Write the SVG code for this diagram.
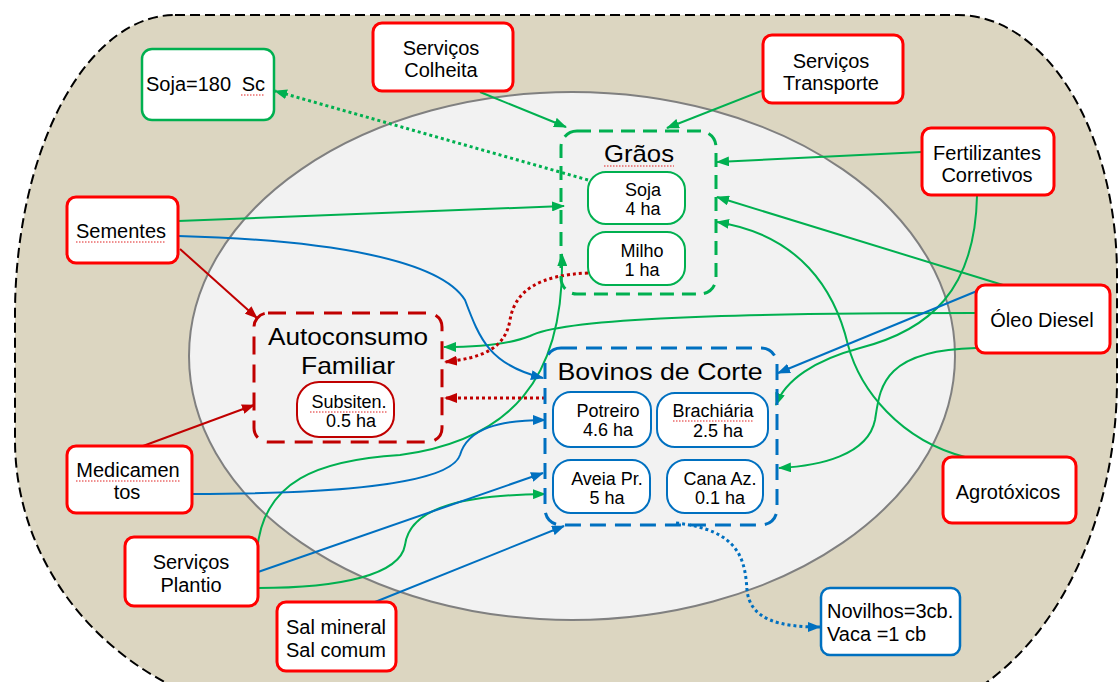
<svg xmlns="http://www.w3.org/2000/svg" width="1118" height="682" viewBox="0 0 1118 682">
<style>
text{font-family:"Liberation Sans",Arial,sans-serif;fill:#000}
.t20{font-size:20px;text-anchor:middle}
.t18{font-size:18px;text-anchor:middle}
.ttl{font-size:24px;text-anchor:middle}
.rb{fill:#fff;stroke:#ff0000;stroke-width:3}
.gb{fill:#fff;stroke:#00b050;stroke-width:2.5}
.bb{fill:#fff;stroke:#0070c0;stroke-width:2.5}
.dr{fill:#fff;stroke:#c00000;stroke-width:2}
.ig{fill:#fff;stroke:#00b050;stroke-width:2}
.ib{fill:#fff;stroke:#0070c0;stroke-width:2}
.grp{fill:none;stroke-width:3}
.c{fill:none;stroke-width:2}
.g{stroke:#00b050}
.b{stroke:#0070c0}
.r{stroke:#c00000}
.dot{stroke-width:3;stroke-dasharray:3 3}
.sq{fill:none;stroke:#e02020;stroke-width:1;stroke-dasharray:1.5 1.5}
</style>
<defs>
<marker id="ag" markerUnits="userSpaceOnUse" markerWidth="13" markerHeight="10" refX="12" refY="5" orient="auto"><path d="M0,0 L13,5 L0,10 z" fill="#00b050"/></marker>
<marker id="ab" markerUnits="userSpaceOnUse" markerWidth="13" markerHeight="10" refX="12" refY="5" orient="auto"><path d="M0,0 L13,5 L0,10 z" fill="#0070c0"/></marker>
<marker id="ar" markerUnits="userSpaceOnUse" markerWidth="13" markerHeight="10" refX="12" refY="5" orient="auto"><path d="M0,0 L13,5 L0,10 z" fill="#c00000"/></marker>
</defs>
<g id="background">
<path d="M175,15 L958,15 A159,260 0 0 1 1117,275 L1117,380 A240,340 0 0 1 877,720 L316,720 A301,280 0 0 1 15,440 L15,315 A160,300 0 0 1 175,15 Z" fill="#dcd6c1" stroke="#000" stroke-width="2" stroke-dasharray="10 5"/>
<ellipse cx="572" cy="356" rx="383" ry="264" fill="#f2f2f2" stroke="#808080" stroke-width="2"/>
</g>
<g id="connectors">
<path class="c g" d="M480,92 L566,127" marker-end="url(#ag)"/>
<path class="c g" d="M764,90 L667,128" marker-end="url(#ag)"/>
<path class="c g" d="M922,152 L717,162" marker-end="url(#ag)"/>
<path class="c g" d="M178,221 L564,206" marker-end="url(#ag)"/>
<path class="c g" d="M1003,285 L717,197" marker-end="url(#ag)"/>
<path class="c g" d="M965,457 C900,440 860,390 848,345 C835,290 800,235 717,222" marker-end="url(#ag)"/>
<path class="c g" d="M977,196 C975,290 930,330 860,348 C815,360 785,380 776,405" marker-end="url(#ag)"/>
<path class="c g" d="M976,313 C700,313 560,320 530,336 C505,346 470,347 444,347" marker-end="url(#ag)"/>
<path class="c g" d="M976,348 C880,350 880,390 875,420 C868,455 820,466 779,468" marker-end="url(#ag)"/>
<path class="c g" d="M257,552 C262,480 320,460 400,455 C510,440 565,380 562,254" marker-end="url(#ag)"/>
<path class="c g" d="M258,588 C340,588 400,575 405,545 C410,505 470,495 545,494" marker-end="url(#ag)"/>
<path class="c g dot" d="M588,180 L275,91" marker-end="url(#ag)"/>
<path class="c b" d="M178,236 C330,240 440,260 465,300 C480,340 490,365 543,378" marker-end="url(#ab)"/>
<path class="c b" d="M977,291 L778,373" marker-end="url(#ab)"/>
<path class="c b" d="M192,494 C330,494 450,485 460,455 C468,428 500,420 545,420" marker-end="url(#ab)"/>
<path class="c b" d="M258,572 L543,473" marker-end="url(#ab)"/>
<path class="c b" d="M375,602 L564,526" marker-end="url(#ab)"/>
<path class="c b dot" d="M676,523 C740,530 745,560 747,590 C750,620 780,627 820,627" marker-end="url(#ab)"/>
<path class="c r" d="M180,249 L257,318" marker-end="url(#ar)"/>
<path class="c r" d="M143,446 L254,405" marker-end="url(#ar)"/>
<path class="c r dot" d="M588,273 C540,275 515,290 510,320 C505,350 480,358 445,362" marker-end="url(#ar)"/>
<path class="c r dot" d="M545,398 L445,398" marker-end="url(#ar)"/>
</g>
<g id="servicos-colheita"><rect class="rb" x="373" y="23" width="140" height="68" rx="9"/><text class="t20" x="441" y="55">Serviços</text><text class="t20" x="441" y="77">Colheita</text></g>
<g id="servicos-transporte"><rect class="rb" x="763" y="35" width="140" height="68" rx="9"/><text class="t20" x="831" y="68">Serviços</text><text class="t20" x="831" y="90">Transporte</text></g>
<g id="fertilizantes"><rect class="rb" x="922" y="128" width="132" height="67" rx="9"/><text class="t20" x="987" y="160">Fertilizantes</text><text class="t20" x="987" y="182">Corretivos</text></g>
<g id="sementes"><rect class="rb" x="67" y="197" width="111" height="66" rx="9"/><text class="t20" x="121" y="238">Sementes</text><path class="sq" d="M76,242 L166,242"/></g>
<g id="oleo-diesel"><rect class="rb" x="976" y="285" width="134" height="68" rx="9"/><text class="t20" x="1042" y="327">Óleo Diesel</text></g>
<g id="agrotoxicos"><rect class="rb" x="943" y="457" width="133" height="66" rx="9"/><text class="t20" x="1008" y="499">Agrotóxicos</text></g>
<g id="medicamentos"><rect class="rb" x="67" y="446" width="125" height="67" rx="9"/><text class="t20" x="128" y="477">Medicamen</text><text class="t20" x="127" y="499">tos</text><path class="sq" d="M76,481 L180,481"/></g>
<g id="servicos-plantio"><rect class="rb" x="125" y="537" width="133" height="69" rx="9"/><text class="t20" x="191" y="569">Serviços</text><text class="t20" x="191" y="592">Plantio</text></g>
<g id="sal"><rect class="rb" x="277" y="602" width="119" height="69" rx="9"/><text class="t20" x="336" y="634">Sal mineral</text><text class="t20" x="336" y="657">Sal comum</text></g>
<g id="soja-180"><rect class="gb" x="142" y="49" width="132" height="71" rx="10"/><text x="146" y="91" style="font-size:20px" word-spacing="5">Soja=180 Sc</text><path class="sq" d="M241,95 L265,95"/></g>
<g id="novilhos"><rect class="bb" x="821" y="588" width="139" height="67" rx="9"/><text x="827" y="618" style="font-size:20px">Novilhos=3cb.</text><text x="827" y="641" style="font-size:20px">Vaca =1 cb</text></g>
<g id="graos"><rect class="grp" x="561" y="131" width="155" height="163" rx="16" stroke="#00b050" stroke-dasharray="14 8"/><text class="ttl" x="639" y="162" textLength="70" lengthAdjust="spacingAndGlyphs">Grãos</text><path class="sq" d="M604,166 L674,166"/></g>
<g id="soja"><rect class="ig" x="588" y="172" width="97" height="52" rx="18"/><text class="t18" x="643" y="196">Soja</text><text class="t18" x="643" y="215">4 ha</text></g>
<g id="milho"><rect class="ig" x="588" y="232" width="97" height="53" rx="18"/><text class="t18" x="642" y="257">Milho</text><text class="t18" x="642" y="276">1 ha</text></g>
<g id="autoconsumo"><rect class="grp" x="254" y="313" width="188" height="129" rx="14" stroke="#c00000" stroke-dasharray="18 10"/><text class="ttl" x="348" y="345" textLength="160" lengthAdjust="spacingAndGlyphs">Autoconsumo</text><text class="ttl" x="348" y="374" textLength="94" lengthAdjust="spacingAndGlyphs">Familiar</text></g>
<g id="subsiten"><rect class="dr" x="297" y="382" width="97" height="55" rx="22"/><text class="t18" x="349" y="408">Subsiten.</text><text class="t18" x="351" y="427">0.5 ha</text><path class="sq" d="M310,412 L387,412"/></g>
<g id="bovinos"><rect class="grp" x="545" y="348" width="232" height="177" rx="16" stroke="#0070c0" stroke-dasharray="16 9"/><text class="ttl" x="660" y="380" textLength="205" lengthAdjust="spacingAndGlyphs">Bovinos de Corte</text></g>
<g id="potreiro"><rect class="ib" x="553" y="392" width="98" height="55" rx="18"/><text class="t18" x="608" y="417">Potreiro</text><text class="t18" x="608" y="436">4.6 ha</text></g>
<g id="brachiaria"><rect class="ib" x="657" y="393" width="111" height="54" rx="18"/><text class="t18" x="713" y="417">Brachiária</text><text class="t18" x="718" y="437">2.5 ha</text><path class="sq" d="M673,421 L754,421"/></g>
<g id="aveia"><rect class="ib" x="553" y="460" width="97" height="53" rx="18"/><text class="t18" x="607" y="485">Aveia Pr.</text><text class="t18" x="607" y="504">5 ha</text></g>
<g id="cana"><rect class="ib" x="667" y="460" width="96" height="53" rx="18"/><text class="t18" x="720" y="485">Cana Az.</text><text class="t18" x="720" y="504">0.1 ha</text></g>
</svg>
